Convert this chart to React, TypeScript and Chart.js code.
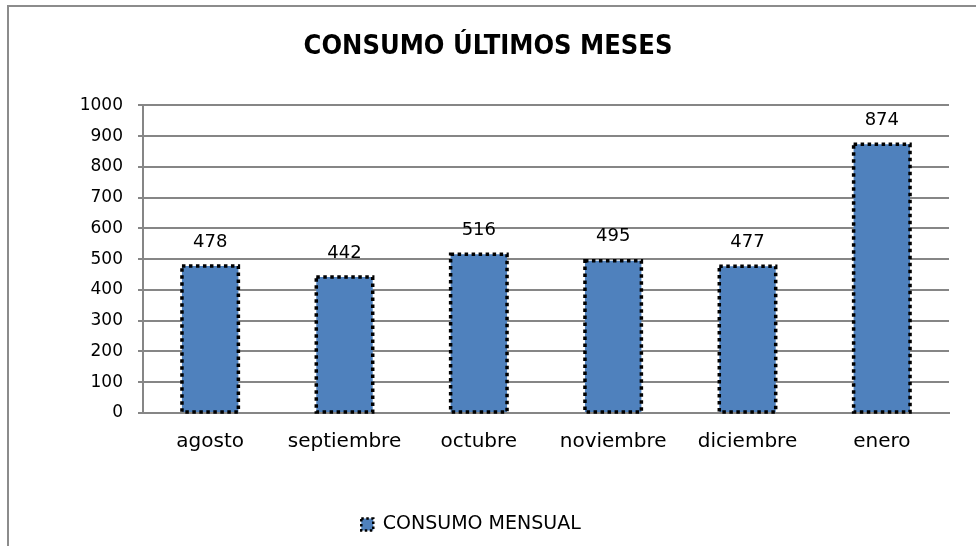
import React, { useEffect, useRef } from "react";
import { Chart, registerables } from "chart.js";

Chart.register(...registerables);

const categories = ["agosto", "septiembre", "octubre", "noviembre", "diciembre", "enero"];
const consumo = [478, 442, 516, 495, 477, 874];
const seriesName = "CONSUMO MENSUAL";
const chartTitle = "CONSUMO ÚLTIMOS MESES";
const yMin = 0;
const yMax = 1000;
const yStep = 100;

const FONT = "'DejaVu Sans', Verdana, sans-serif";
const TITLE_FONT = "'DejaVu Sans Condensed', 'DejaVu Sans', Verdana, sans-serif";
const BLUE = "#4F81BD";

const barDecor = {
  id: "barDecor",
  afterLayout(chart: any) {
    const lg = chart.legend;
    if (lg) {
      lg.left -= 17;
      lg.right -= 17;
    }
  },
  afterDatasetsDraw(chart: any) {
    const ctx = chart.ctx;
    const meta = chart.getDatasetMeta(0);
    ctx.save();
    meta.data.forEach((el: any, i: number) => {
      const { x, y, base, width } = el.getProps(["x", "y", "base", "width"], true);
      const left = x - width / 2;
      ctx.setLineDash([3.5, 3.5]);
      ctx.lineWidth = 3.5;
      ctx.strokeStyle = "#000";
      ctx.strokeRect(left, y, width, base - y);
      ctx.setLineDash([]);
      ctx.fillStyle = "#000";
      ctx.font = `18px ${FONT}`;
      ctx.textAlign = "center";
      ctx.textBaseline = "middle";
      ctx.fillText(String(consumo[i]), x, y - 24);
    });
    ctx.restore();
  },
};

export default function App() {
  const ref = useRef<HTMLCanvasElement | null>(null);
  useEffect(() => {
    if (!ref.current) return;
    const chart = new Chart(ref.current, {
      type: "bar",
      data: {
        labels: categories,
        datasets: [
          {
            label: seriesName,
            data: consumo,
            backgroundColor: BLUE,
            borderWidth: 0,
            categoryPercentage: 1,
            barPercentage: 0.42,
          },
        ],
      },
      options: {
        animation: false,
        responsive: false,
        devicePixelRatio: 1,
        layout: { padding: { left: 27, right: 27, top: 0, bottom: 2 } },
        plugins: {
          title: {
            display: true,
            text: chartTitle,
            color: "#000",
            font: { family: TITLE_FONT, size: 27, weight: "bold" },
            padding: { top: 31, bottom: 42 },
          },
          legend: {
            position: "bottom",
            labels: {
              color: "#000",
              font: { family: FONT, size: 19 },
              boxWidth: 12,
              boxHeight: 12,
              generateLabels: () => [
                {
                  text: seriesName,
                  fillStyle: BLUE,
                  strokeStyle: "#000",
                  lineWidth: 2.5,
                  lineDash: [2.5, 2.5],
                  hidden: false,
                  datasetIndex: 0,
                  fontColor: "#000",
                },
              ],
            },
          },
          tooltip: { enabled: false },
        },
        scales: {
          x: {
            grid: { display: false, drawTicks: false },
            border: { display: true, color: "#868686", width: 2 },
            ticks: { color: "#000", font: { family: FONT, size: 20 }, padding: 17 },
            afterFit: (scale: any) => {
              scale.height += 34;
            },
          },
          y: {
            min: yMin,
            max: yMax,
            ticks: {
              stepSize: yStep,
              color: "#000",
              font: { family: FONT, size: 17 },
              padding: 15,
              callback: (v: any) => String(v),
            },
            grid: { color: "#868686", lineWidth: 2, tickLength: 5 },
            border: { display: true, color: "#868686", width: 2 },
            afterFit: (scale: any) => {
              scale.width = 116;
            },
          },
        },
      },
      plugins: [barDecor],
    });
    return () => chart.destroy();
  }, []);

  return (
    <div style={{ position: "fixed", left: 0, top: 0, width: 976, height: 546, background: "#fff" }}>
      <div
        style={{
          position: "absolute",
          left: 7,
          top: 5,
          right: -10,
          bottom: -10,
          borderLeft: "2px solid #8c8c8c",
          borderTop: "2px solid #8c8c8c",
        }}
      />
      <canvas ref={ref} width={976} height={546} style={{ position: "absolute", left: 0, top: 0 }} />
    </div>
  );
}
